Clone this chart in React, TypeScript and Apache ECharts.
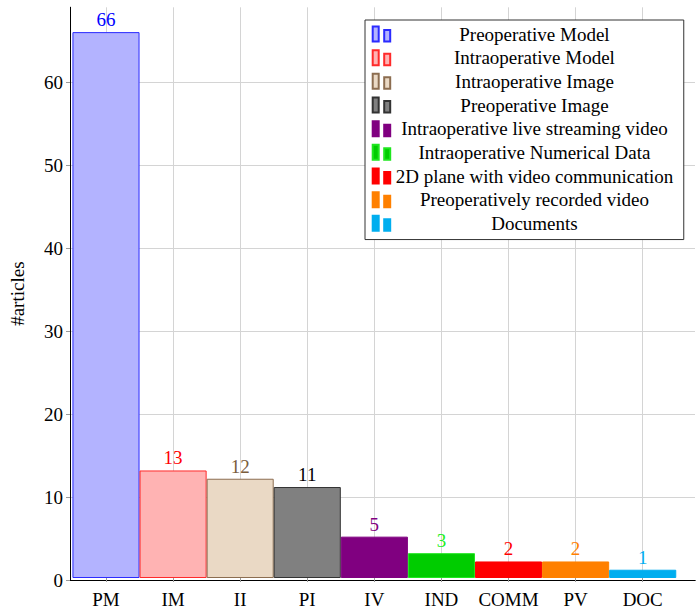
import React, { useEffect, useRef } from "react";
import * as echarts from "echarts";

const categories = ["PM", "IM", "II", "PI", "IV", "IND", "COMM", "PV", "DOC"];
const seriesNames = [
  "Preoperative Model",
  "Intraoperative Model",
  "Intraoperative Image",
  "Preoperative Image",
  "Intraoperative live streaming video",
  "Intraoperative Numerical Data",
  "2D plane with video communication",
  "Preoperatively recorded video",
  "Documents",
];
const values = [66, 13, 12, 11, 5, 3, 2, 2, 1];
const fillColors = ["#b3b3ff", "#ffb3b3", "#ead9c5", "#808080", "#800080", "#00cc00", "#ff0000", "#ff8000", "#00aeef"];
const borderColors = ["#2b2bff", "#ff2a2a", "#8c6d50", "#333333", "#800080", "#1fe61f", "#ff0000", "#ff8000", "#00aeef"];
const labelColors = ["#0000ff", "#ff0000", "#7b5d3c", "#000000", "#800080", "#22ee22", "#ff0000", "#ff8000", "#00aeef"];
const yTicks = [0, 10, 20, 30, 40, 50, 60];
const yMax = 69;

const FONT = "Liberation Serif";
const GRID_COLOR = "#d4d4d4";
const TICK_COLOR = "#9a9a9a";

export default function App() {
  const ref = useRef<HTMLDivElement>(null);
  useEffect(() => {
    if (!ref.current) return;
    const chart = echarts.init(ref.current, null, { renderer: "svg" });
    const series: any[] = seriesNames.map((name, i) => ({
      name,
      type: "bar",
      stack: "all",
      xAxisIndex: 2,
      yAxisIndex: 2,
      barCategoryGap: "0%",
      data: values.map((v, j) => (j === i ? v : "-")),
      itemStyle: { color: fillColors[i], borderColor: borderColors[i], borderWidth: 1 },
      label: {
        show: true,
        position: "top",
        distance: 3,
        color: labelColors[i],
        fontFamily: FONT,
        fontSize: 19,
      },
      emphasis: { disabled: true },
      z: 2,
    }));
    series[0].markLine = {
      silent: true,
      symbol: ["none", "none"],
      z: 1,
      label: { show: false },
      lineStyle: { color: GRID_COLOR, width: 1, type: "solid" },
      emphasis: { disabled: true },
      data: categories.map((c) => ({ xAxis: c })),
    };
    chart.setOption({
      animation: false,
      backgroundColor: "#ffffff",
      textStyle: { fontFamily: FONT },
      grid: [
        { left: 52.3, right: 2, top: 7.3, bottom: 29, containLabel: false },
        { left: 72.45, right: 20.75, top: 7.3, bottom: 29, containLabel: false },
      ],
      legend: {
        orient: "vertical",
        left: 365,
        top: 20,
        padding: [4.5, 10.3, 6.7, 6.7],
        itemGap: 4.67,
        itemWidth: 18,
        itemHeight: 15,
        icon: "path://M0,0 L6,0 L6,15 L0,15 Z M11.5,3.5 L17.5,3.5 L17.5,15 L11.5,15 Z",
        borderColor: "#333333",
        borderWidth: 1,
        backgroundColor: "#ffffff",
        selectedMode: false,
        formatter: "{a|{name}}",
        textStyle: {
          color: "#000",
          fontFamily: FONT,
          fontSize: 19,
          rich: {
            a: { width: 278, align: "center", fontFamily: FONT, fontSize: 19, lineHeight: 20, color: "#000" },
          },
        },
        data: seriesNames,
      },
      xAxis: [
        {
          gridIndex: 0,
          type: "value",
          position: "bottom",
          min: 0,
          max: 1,
          axisLine: { show: true, lineStyle: { color: "#000", width: 1 } },
          axisTick: { show: false },
          axisLabel: { show: false },
          splitLine: { show: false },
        },
        {
          gridIndex: 0,
          type: "value",
          position: "top",
          min: 0,
          max: 1,
          axisLine: { show: true, lineStyle: { color: "#000", width: 1 } },
          axisTick: { show: false },
          axisLabel: { show: false },
          splitLine: { show: false },
        },
        {
          gridIndex: 1,
          type: "category",
          data: categories,
          boundaryGap: true,
          axisLine: { show: false },
          axisTick: { show: true, alignWithLabel: true, interval: 0, length: 4, lineStyle: { color: TICK_COLOR } },
          axisLabel: { color: "#000", fontFamily: FONT, fontSize: 19, margin: 12, interval: 0 },
          splitLine: { show: false },
        },
      ],
      yAxis: [
        {
          gridIndex: 0,
          type: "value",
          min: 0,
          max: yMax,
          interval: 10,
          name: "#articles",
          nameLocation: "middle",
          nameRotate: 90,
          nameGap: 43,
          nameTextStyle: { color: "#000", fontFamily: FONT, fontSize: 19 },
          axisLine: { show: true, lineStyle: { color: "#000", width: 1 } },
          axisTick: { show: true, length: 4, lineStyle: { color: TICK_COLOR }, customValues: yTicks },
          axisLabel: {
            color: "#000",
            fontFamily: FONT,
            fontSize: 19,
            margin: 7,
            customValues: yTicks,
            formatter: (v: number) => String(v),
          },
          splitLine: { show: true, lineStyle: { color: GRID_COLOR, width: 1 } },
        },
        {
          gridIndex: 0,
          type: "value",
          position: "right",
          min: 0,
          max: 1,
          axisLine: { show: true, lineStyle: { color: "#000", width: 1 } },
          axisTick: { show: false },
          axisLabel: { show: false },
          splitLine: { show: false },
        },
        {
          gridIndex: 1,
          type: "value",
          min: 0,
          max: yMax,
          show: false,
          splitLine: { show: false },
        },
      ],
      series,
    });
    return () => chart.dispose();
  }, []);
  return <div ref={ref} style={{ position: "absolute", left: 0, top: 0, width: 697, height: 609 }} />;
}
